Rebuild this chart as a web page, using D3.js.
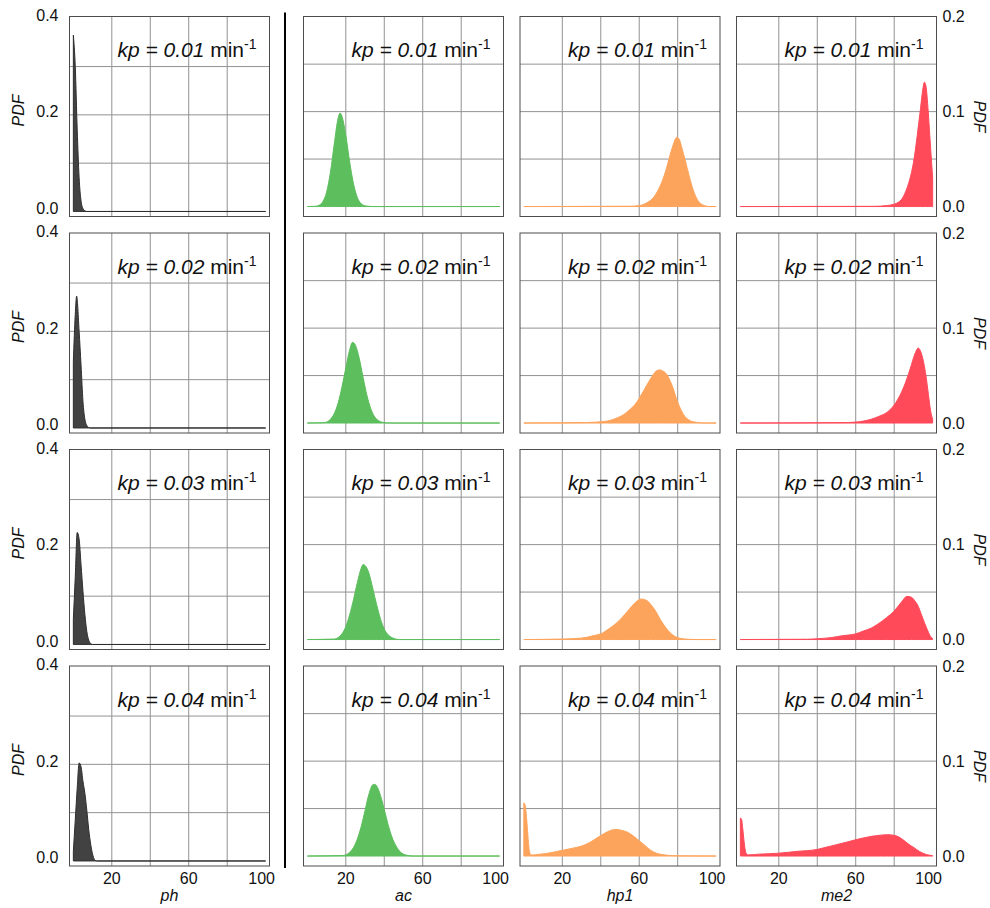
<!DOCTYPE html>
<html>
<head>
<meta charset="utf-8">
<script src="https://cdn.jsdelivr.net/npm/d3@7"></script>
<style>
  body { margin: 0; background: #fff; }
  svg { display: block; }
  text { font-family: "Liberation Sans", Arial, Helvetica, sans-serif; fill: #111; }
</style>
</head>
<body>
<svg id="chart" width="990" height="908"></svg>
<script>
// ---- data ----------------------------------------------------------------
const variables = ["ph", "ac", "hp1", "me2"];
const rates = ["0.01", "0.02", "0.03", "0.04"];
const xTickLabels = [20, 60, 100];
const xGridValues = [20, 40, 60, 80];
const phTickValues = [0, 0.2, 0.4];
const phGridValues = [0.1, 0.2, 0.3];
const pdfTickValues = [0, 0.1, 0.2];
const pdfGridValues = [0.05, 0.1, 0.15];

// [x, PDF] pairs for each variable at each kp
const ph_k1 = [[0,0.365],[1,0.30],[2,0.17],[3,0.07],[4,0.022],[5,0.006],[6,0.0015],[7,0],[100,0]];
const ph_k2 = [[0,0.137],[1,0.235],[1.7,0.273],[3,0.2],[4,0.13],[5,0.055],[6,0.018],[7,0.005],[8,0.001],[9,0],[100,0]];
const ph_k3 = [[0,0.052],[1,0.14],[2,0.232],[3,0.218],[4,0.165],[5,0.11],[6,0.062],[7,0.027],[8,0.009],[9,0.002],[10,0],[100,0]];
const ph_k4 = [[0,0.02],[1,0.085],[2,0.15],[3,0.203],[4,0.195],[5,0.165],[6,0.14],[7,0.105],[8,0.065],[9,0.035],[10,0.014],[11,0.003],[12,0],[100,0]];

const ac_k1 = [[0,0],[4,0.0002],[6,0.0012],[8,0.005],[10,0.015],[12,0.036],[14,0.066],[16,0.093],[17,0.0985],[18,0.095],[20,0.075],[22,0.047],[24,0.024],[26,0.0095],[28,0.003],[30,0.0008],[32,0.0002],[34,0],[100,0]];
const ac_k2 = [[0,0],[8,0.0003],[10,0.001],[12,0.004],[14,0.01],[16,0.021],[18,0.038],[20,0.058],[22,0.077],[23.5,0.085],[25,0.082],[27,0.068],[29,0.048],[31,0.029],[33,0.015],[35,0.0065],[37,0.0025],[39,0.0008],[41,0.0002],[44,0],[100,0]];
const ac_k3 = [[0,0],[14,0.0005],[16,0.002],[18,0.006],[20,0.0135],[22,0.026],[24,0.042],[26,0.06],[28,0.075],[29,0.079],[30,0.078],[32,0.07],[34,0.054],[36,0.037],[38,0.022],[40,0.011],[42,0.005],[44,0.002],[46,0.0005],[48,0],[100,0]];
const ac_k4 = [[0,0],[18,0.0005],[20,0.0012],[22,0.004],[24,0.009],[26,0.018],[28,0.031],[30,0.048],[32,0.065],[34,0.075],[35,0.0755],[36,0.074],[38,0.064],[40,0.049],[42,0.033],[44,0.02],[46,0.011],[48,0.005],[50,0.002],[52,0.0007],[55,0],[100,0]];

const hp1_k1 = [[0,0],[55,0.0003],[60,0.001],[64,0.004],[68,0.011],[70,0.018],[72,0.027],[74,0.039],[76,0.054],[78,0.067],[79.5,0.073],[81,0.07],[82,0.063],[84,0.048],[86,0.032],[88,0.018],[90,0.008],[92,0.003],[94,0.001],[96,0],[100,0]];
const hp1_k2 = [[0,0],[32,0.0005],[43,0.002],[48,0.005],[52,0.009],[55,0.014],[58,0.02],[62,0.033],[66,0.047],[69,0.055],[70.6,0.056],[72,0.055],[74,0.052],[77,0.04],[80,0.022],[83,0.009],[86,0.003],[89,0.001],[92,0.0002],[95,0],[100,0]];
const hp1_k3 = [[0,0],[20,0.0005],[30,0.0015],[36,0.004],[41,0.007],[44,0.011],[47.4,0.016],[51,0.023],[54,0.03],[58,0.039],[61,0.0427],[64,0.041],[66,0.037],[68.5,0.03],[71,0.021],[74,0.012],[78,0.004],[82,0.001],[86,0.0002],[90,0],[100,0]];
const hp1_k4 = [[0,0.056],[0.6,0.054],[1.2,0.045],[1.8,0.03],[2.4,0.014],[3,0.004],[4,0.001],[8,0.0018],[14,0.0035],[20,0.006],[26,0.0085],[30,0.0105],[34,0.014],[38,0.019],[42,0.024],[45,0.027],[48,0.028],[51,0.027],[54,0.025],[57,0.021],[60,0.016],[63,0.011],[66,0.006],[69,0.003],[72,0.0015],[76,0.0005],[80,0.0002],[100,0]];

const me2_k1 = [[0,0],[70,0.0002],[76,0.001],[80,0.0025],[84,0.008],[86,0.016],[88,0.028],[90,0.046],[92,0.075],[93.5,0.1],[95,0.125],[95.7,0.131],[96.5,0.127],[97.7,0.1],[98.5,0.075],[99.5,0.045],[100,0.03]];
const me2_k2 = [[0,0],[55,0.0005],[60,0.001],[68,0.004],[72,0.007],[76.7,0.012],[81,0.022],[85,0.038],[88.3,0.057],[91,0.074],[92.5,0.079],[94,0.074],[95.5,0.062],[96.5,0.05],[97.8,0.03],[99,0.012],[100,0.004]];
const me2_k3 = [[0,0],[35,0.0003],[40,0.0008],[47,0.002],[53,0.004],[60,0.006],[64,0.009],[68,0.012],[72,0.017],[76,0.023],[80,0.03],[84,0.04],[86.6,0.0455],[89,0.0445],[91,0.04],[92.5,0.035],[94,0.027],[95.7,0.018],[97.5,0.009],[99,0.003],[100,0.001]];
const me2_k4 = [[0,0.040],[0.6,0.039],[1.2,0.03],[1.8,0.018],[2.4,0.008],[3,0.003],[4,0.0012],[10,0.002],[20,0.003],[30,0.005],[40,0.007],[45,0.0095],[50,0.012],[55,0.0145],[60,0.0172],[65,0.0195],[69,0.021],[73,0.022],[76.5,0.0225],[80,0.0218],[82.5,0.02],[85,0.0165],[87.5,0.0125],[90.3,0.0088],[93,0.005],[95.5,0.0025],[98,0.001],[100,0.0003]];

// one row per kp, one column per variable
const series = [
  [ph_k1, ac_k1, hp1_k1, me2_k1],
  [ph_k2, ac_k2, hp1_k2, me2_k2],
  [ph_k3, ac_k3, hp1_k3, me2_k3],
  [ph_k4, ac_k4, hp1_k4, me2_k4]
];

// ---- styling / layout ----------------------------------------------------
const fills = { ph: "#424242", ac: "#5cbe5c", hp1: "#fda45c", me2: "#ff4a5a" };
const strokes = { ph: "#2e2e2e", ac: "#5cbe5c", hp1: "#fda45c", me2: "#ff4a5a" };
const W = 200, H = 200;
const colLeft = [69.5, 303.5, 520, 736.5];
const rowTop = r => 16.5 + r * 216.5;

const x = d3.scaleLinear().domain([-2, 102]).range([0, W]);
const yPh = d3.scaleLinear().domain([-0.0104, 0.4036]).range([H, 0]);
const yPdf = d3.scaleLinear().domain([-0.0105, 0.2002]).range([H, 0]);

const svg = d3.select("#chart");

// vertical divider between ph and the other variables
svg.append("line")
  .attr("x1", 285).attr("x2", 285)
  .attr("y1", 12.5).attr("y2", 868)
  .attr("stroke", "#000").attr("stroke-width", 2);

series.forEach((row, r) => {
  row.forEach((data, c) => {
    const v = variables[c];
    const y = c === 0 ? yPh : yPdf;
    const g = svg.append("g").attr("transform", `translate(${colLeft[c]},${rowTop(r)})`);

    // grid
    g.selectAll(".gx").data(xGridValues).join("line")
      .attr("x1", d => x(d)).attr("x2", d => x(d))
      .attr("y1", 0).attr("y2", H)
      .attr("stroke", "#929292").attr("stroke-width", 1);
    g.selectAll(".gy").data(c === 0 ? phGridValues : pdfGridValues).join("line")
      .attr("x1", 0).attr("x2", W)
      .attr("y1", d => y(d)).attr("y2", d => y(d))
      .attr("stroke", "#929292").attr("stroke-width", 1);

    // density area
    const area = d3.area()
      .x(d => x(d[0]))
      .y0(y(0))
      .y1(d => y(d[1]))
      .curve(d3.curveMonotoneX);
    g.append("path")
      .datum(data)
      .attr("d", area)
      .attr("fill", fills[v])
      .attr("stroke", strokes[v])
      .attr("stroke-width", 1)
      .attr("stroke-linejoin", "round");

    // frame
    g.append("rect")
      .attr("x", 0).attr("y", 0).attr("width", W).attr("height", H)
      .attr("fill", "none").attr("stroke", "#4d4d4d").attr("stroke-width", 1);

    // kp annotation
    const t = g.append("text")
      .attr("x", W - 13).attr("y", 40.5)
      .attr("text-anchor", "end")
      .style("font-size", "21px");
    t.append("tspan").style("font-style", "italic").text(`kp = ${rates[r]}`);
    t.append("tspan").text(" min");
    t.append("tspan").attr("dy", -8).style("font-size", "14px").text("-1");

    // left axis on the ph column
    if (c === 0) {
      g.selectAll(".yl").data(phTickValues).join("text")
        .attr("x", -11).attr("y", d => y(d) - 3)
        .attr("text-anchor", "end")
        .attr("dominant-baseline", "central")
        .style("font-size", "16px")
        .text(d3.format(".1f"));
      g.append("text")
        .attr("transform", `translate(-51,${H / 2 - 6}) rotate(-90)`)
        .attr("text-anchor", "middle")
        .attr("dominant-baseline", "central")
        .style("font-size", "16px").style("font-style", "italic")
        .text("PDF");
    }
    // right axis on the me2 column
    if (c === 3) {
      g.selectAll(".yr").data(pdfTickValues).join("text")
        .attr("x", W + 6).attr("y", d => y(d))
        .attr("text-anchor", "start")
        .attr("dominant-baseline", "central")
        .style("font-size", "16px")
        .text(d3.format(".1f"));
      g.append("text")
        .attr("transform", `translate(${W + 43},${H / 2}) rotate(90)`)
        .attr("text-anchor", "middle")
        .attr("dominant-baseline", "central")
        .style("font-size", "16px").style("font-style", "italic")
        .text("PDF");
    }
    // bottom axis on the last row
    if (r === series.length - 1) {
      g.selectAll(".xl").data(xTickLabels).join("text")
        .attr("x", d => x(d) - (d === 100 ? 4 : 0)).attr("y", H + 12)
        .attr("text-anchor", "middle")
        .attr("dominant-baseline", "central")
        .style("font-size", "16px")
        .text(d => d);
      g.append("text")
        .attr("x", W / 2).attr("y", H + 29)
        .attr("text-anchor", "middle")
        .attr("dominant-baseline", "central")
        .style("font-size", "16px").style("font-style", "italic")
        .text(v);
    }
  });
});
</script>
</body>
</html>
